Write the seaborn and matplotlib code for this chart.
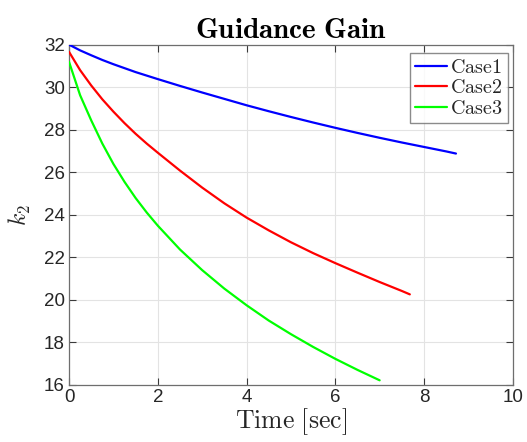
import numpy as np
import pandas as pd
import matplotlib
matplotlib.use("Agg")
import matplotlib.pyplot as plt
import seaborn as sns

# ---- data ----
t_case1 = [0, 0.25, 0.5, 0.75, 1, 1.5, 2, 2.5, 3, 3.5, 4, 4.5, 5, 5.5, 6, 6.5, 7, 7.5, 8, 8.5, 8.72]
k_case1 = [32.0, 31.73, 31.5, 31.28, 31.08, 30.71, 30.38, 30.06, 29.75, 29.45, 29.15, 28.87,
           28.6, 28.34, 28.09, 27.85, 27.62, 27.4, 27.19, 26.98, 26.88]

t_case2 = [0, 0.25, 0.5, 0.75, 1, 1.25, 1.5, 1.75, 2, 2.5, 3, 3.5, 4, 4.5, 5, 5.5, 6, 6.5, 7, 7.5, 7.68]
k_case2 = [31.66, 30.8, 30.08, 29.43, 28.85, 28.31, 27.81, 27.35, 26.92, 26.08, 25.28, 24.54,
           23.87, 23.27, 22.71, 22.2, 21.73, 21.28, 20.84, 20.42, 20.26]

t_case3 = [0, 0.25, 0.5, 0.75, 1, 1.25, 1.5, 1.75, 2, 2.5, 3, 3.5, 4, 4.5, 5, 5.5, 6, 6.5, 7.0]
k_case3 = [31.19, 29.62, 28.44, 27.35, 26.39, 25.55, 24.79, 24.11, 23.49, 22.37, 21.4, 20.53,
           19.75, 19.03, 18.39, 17.79, 17.23, 16.71, 16.22]

cases = ["Case1", "Case2", "Case3"]
colors = ["#0000ff", "#ff0000", "#00ff00"]

x_ticks = [0, 2, 4, 6, 8, 10]
y_ticks = [16, 18, 20, 22, 24, 26, 28, 30, 32]

df = pd.concat([
    pd.DataFrame({"Time": t_case1, "k2": k_case1, "Case": "Case1"}),
    pd.DataFrame({"Time": t_case2, "k2": k_case2, "Case": "Case2"}),
    pd.DataFrame({"Time": t_case3, "k2": k_case3, "Case": "Case3"}),
], ignore_index=True)

sns.set_theme(style="white")
plt.rcParams["font.family"] = ["Liberation Sans", "DejaVu Sans"]
plt.rcParams["mathtext.fontset"] = "cm"

fig = plt.figure(figsize=(5.27, 4.42), dpi=100)
ax = fig.add_axes([0.131, 0.129, 0.842, 0.770])

sns.lineplot(data=df, x="Time", y="k2", hue="Case", hue_order=cases,
             palette=dict(zip(cases, colors)), linewidth=1.6, ax=ax,
             estimator=None, sort=False, zorder=3)
for ln in ax.get_lines():
    ln.set_solid_joinstyle("round")

ax.set_xlim(0, 10)
ax.set_ylim(16, 32)
ax.set_xticks(x_ticks)
ax.set_yticks(y_ticks)
ax.set_xticklabels([str(v) for v in x_ticks])
ax.set_yticklabels([str(v) for v in y_ticks])

ax.grid(True, color="#e3e3e3", linewidth=0.8, zorder=0)
ax.set_axisbelow(True)
for s in ax.spines.values():
    s.set_color("#6e6e6e")
    s.set_linewidth(0.9)
    s.set_visible(True)

ax.tick_params(axis="both", which="both", direction="in", length=5, width=0.8,
               color="#3a3a3a", labelsize=13.5, labelcolor="#262626",
               top=True, right=True, bottom=True, left=True, pad=3)

ax.set_title(r"$\mathbf{Guidance\ Gain}$", fontsize=21, color="black", pad=5)
ax.set_xlabel(r"$\mathrm{Time\ [sec]}$", fontsize=18.5, color="#262626", labelpad=0)
ax.set_ylabel(r"$k_2$", fontsize=17, color="#262626", labelpad=8)

leg = ax.legend(loc="upper right", bbox_to_anchor=(0.9887, 0.976), borderaxespad=0,
                frameon=True, fancybox=False, edgecolor="#6e6e6e",
                handlelength=1.6, handletextpad=0.15,
                borderpad=0.25, labelspacing=0.08, prop={"size": 14.5})
for txt in leg.get_texts():
    txt.set_text(r"$\mathrm{" + txt.get_text() + "}$")
leg.get_frame().set_linewidth(1.0)

fig.savefig("out.png", dpi=100)
